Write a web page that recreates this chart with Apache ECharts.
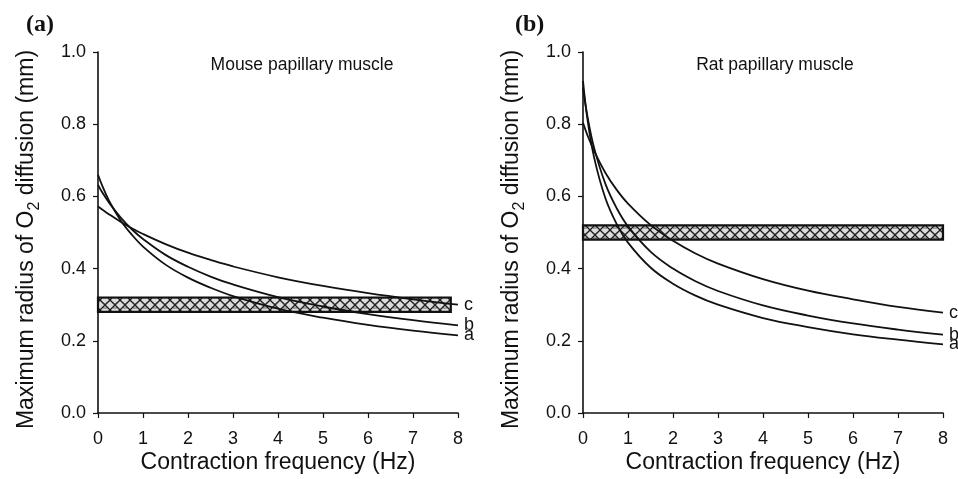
<!DOCTYPE html>
<html>
<head>
<meta charset="utf-8">
<script src="https://cdn.jsdelivr.net/npm/echarts@6/dist/echarts.min.js"></script>
<style>
  html, body { margin: 0; padding: 0; background: #fff; }
  #main { width: 958px; height: 479px; }
</style>
</head>
<body>
<div id="main"></div>
<script>
// frequency points (Hz)
var freq = [0, 0.1, 0.25, 0.5, 0.75, 1, 1.5, 2, 2.5, 3, 4, 5, 6, 7, 8];

// (a) mouse papillary muscle, radius in mm
var mouseA = [0.66, 0.628, 0.587, 0.534, 0.494, 0.461, 0.411, 0.375, 0.347, 0.324, 0.289, 0.264, 0.244, 0.228, 0.215];
var mouseB = [0.632, 0.610, 0.582, 0.542, 0.509, 0.482, 0.438, 0.405, 0.378, 0.356, 0.321, 0.295, 0.274, 0.257, 0.243];
var mouseC = [0.572, 0.563, 0.550, 0.530, 0.512, 0.496, 0.468, 0.444, 0.424, 0.406, 0.376, 0.352, 0.332, 0.315, 0.300];

// (b) rat papillary muscle
var ratA = [0.92, 0.813, 0.706, 0.594, 0.523, 0.472, 0.403, 0.358, 0.325, 0.300, 0.263, 0.238, 0.218, 0.203, 0.190];
var ratB = [0.90, 0.821, 0.733, 0.634, 0.567, 0.517, 0.447, 0.400, 0.365, 0.338, 0.298, 0.270, 0.248, 0.231, 0.217];
var ratC = [0.804, 0.769, 0.725, 0.665, 0.618, 0.580, 0.521, 0.477, 0.442, 0.414, 0.371, 0.339, 0.315, 0.294, 0.278];

// hatched band: [xFrom, xTo, yFrom, yTo]
var bandMouse = [0, 7.84, 0.28, 0.32];
var bandRat = [0, 8, 0.48, 0.52];

var xTicks = [0, 8, 1];
var yTicks = [0, 1, 0.2];

function pairs(xs, ys) {
  var out = [];
  for (var i = 0; i < xs.length; i++) out.push([xs[i], ys[i]]);
  return out;
}

// crosshatch pattern for the band
var pc = document.createElement('canvas');
pc.width = 10; pc.height = 10;
var g = pc.getContext('2d');
g.fillStyle = '#dcdcdc';
g.fillRect(0, 0, 10, 10);
g.strokeStyle = '#1a1a1a';
g.lineWidth = 1.3;
g.beginPath();
g.moveTo(0, 0); g.lineTo(10, 10);
g.moveTo(10, 0); g.lineTo(0, 10);
g.stroke();
g.strokeStyle = '#444';
g.lineWidth = 0.8;
g.beginPath();
g.arc(5, 2.5, 1.6, 0, Math.PI);
g.moveTo(3, 8); g.lineTo(7, 8);
g.stroke();

var axisFont = { fontFamily: 'Liberation Sans', fontSize: 18, color: '#111' };
var nameFont = { fontFamily: 'Liberation Sans', fontSize: 23, color: '#111' };

function xAxisFor(idx) {
  return {
    gridIndex: idx, type: 'value', min: xTicks[0], max: xTicks[1], interval: xTicks[2],
    name: 'Contraction frequency (Hz)', nameLocation: 'middle', nameGap: 38,
    nameMoveOverlap: false,
    nameTextStyle: nameFont,
    axisLine: { lineStyle: { color: '#111', width: 1.6 } },
    axisTick: { length: 5, lineStyle: { color: '#111', width: 1.2 } },
    axisLabel: Object.assign({ margin: 17 }, axisFont),
    splitLine: { show: false }
  };
}
function yAxisFor(idx) {
  return {
    gridIndex: idx, type: 'value', min: yTicks[0], max: yTicks[1], interval: yTicks[2],
    name: 'Maximum radius of O{sub|2} diffusion (mm)', nameLocation: 'middle', nameGap: 55,
    nameTextStyle: Object.assign({
      padding: [0, 14, 0, 0],
      rich: { sub: { fontFamily: 'Liberation Sans', fontSize: 16, color: '#111', padding: [16, 0, 0, 0] } }
    }, nameFont),
    axisLine: { show: true, lineStyle: { color: '#111', width: 1.6 } },
    axisTick: { show: true, length: 5, lineStyle: { color: '#111', width: 1.2 } },
    axisLabel: Object.assign({ margin: 12, formatter: function (v) { return v.toFixed(1); } }, axisFont),
    splitLine: { show: false }
  };
}

function curve(idx, label, xs, ys) {
  return {
    type: 'line', xAxisIndex: idx, yAxisIndex: idx, data: pairs(xs, ys),
    smooth: 0.4, showSymbol: false, z: 2,
    lineStyle: { color: '#111', width: 1.8 },
    endLabel: { show: true, formatter: label, distance: 6,
      fontFamily: 'Liberation Sans', fontSize: 18, color: '#111' }
  };
}

function band(idx, b) {
  return {
    type: 'line', xAxisIndex: idx, yAxisIndex: idx, data: [], z: 5,
    markArea: {
      silent: true,
      itemStyle: { color: { image: pc, repeat: 'repeat' }, borderColor: '#111', borderWidth: 2.2 },
      data: [[{ coord: [b[0], b[2]] }, { coord: [b[1], b[3]] }]]
    }
  };
}

var chart = echarts.init(document.getElementById('main'));
chart.setOption({
  animation: false,
  backgroundColor: '#fff',
  title: [
    { text: '(a)', left: 21, top: 8, textStyle: { fontFamily: 'Liberation Serif', fontWeight: 'bold', fontSize: 24, color: '#111' } },
    { text: '(b)', left: 510, top: 8, textStyle: { fontFamily: 'Liberation Serif', fontWeight: 'bold', fontSize: 24, color: '#111' } },
    { text: 'Mouse papillary muscle', left: 297, top: 51, textAlign: 'center', textStyle: { fontFamily: 'Liberation Sans', fontWeight: 'normal', fontSize: 17.5, color: '#111' } },
    { text: 'Rat papillary muscle', left: 770, top: 51, textAlign: 'center', textStyle: { fontFamily: 'Liberation Sans', fontWeight: 'normal', fontSize: 17.5, color: '#111' } }
  ],
  grid: [
    { left: 98, right: 500, top: 52, bottom: 66, outerBoundsMode: 'none' },
    { left: 583, right: 15, top: 52, bottom: 66, outerBoundsMode: 'none' }
  ],
  xAxis: [xAxisFor(0), xAxisFor(1)],
  yAxis: [yAxisFor(0), yAxisFor(1)],
  series: [
    curve(0, 'a', freq, mouseA),
    curve(0, 'b', freq, mouseB),
    curve(0, 'c', freq, mouseC),
    band(0, bandMouse),
    curve(1, 'a', freq, ratA),
    curve(1, 'b', freq, ratB),
    curve(1, 'c', freq, ratC),
    band(1, bandRat)
  ]
});
</script>
</body>
</html>
